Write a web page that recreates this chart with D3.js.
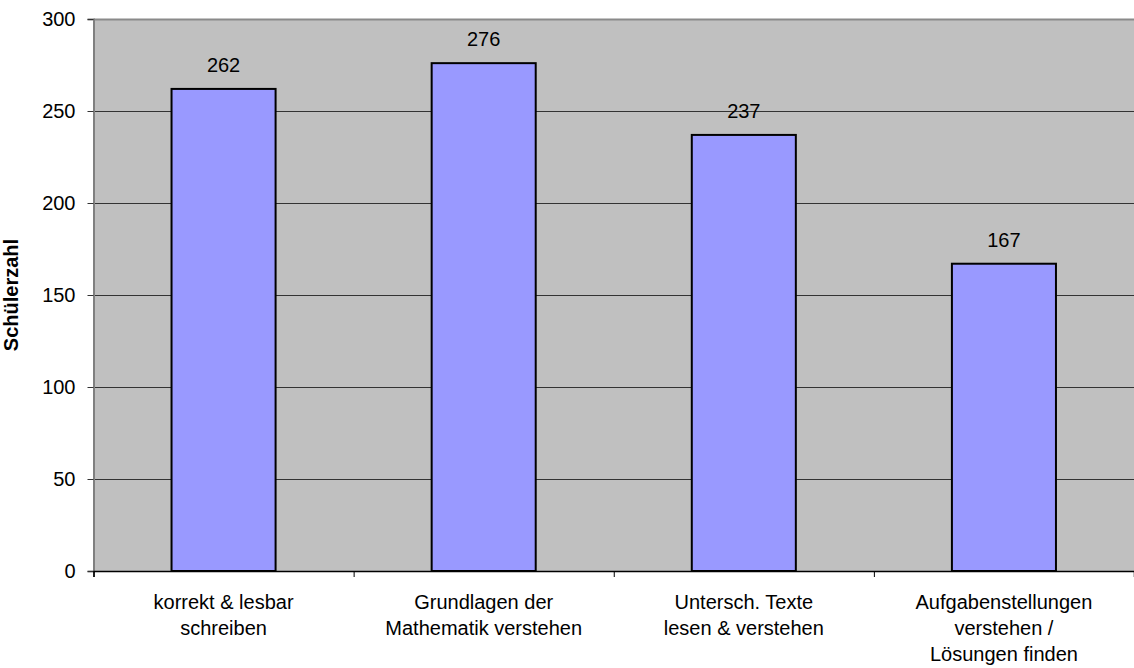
<!DOCTYPE html>
<meta charset="utf-8">
<script src="https://d3js.org/d3.v7.min.js"></script>
<style>
  body { margin: 0; background: #fff; }
  text { font-family: "Liberation Sans", Arial, sans-serif; }
</style>
<div id="chart"></div>
<script>
// data
var categories = [
  ["korrekt & lesbar", "schreiben"],
  ["Grundlagen der", "Mathematik verstehen"],
  ["Untersch. Texte", "lesen & verstehen"],
  ["Aufgabenstellungen", "verstehen /", "Lösungen finden"]
];
var values = [262, 276, 237, 167];
var yTicks = [0, 50, 100, 150, 200, 250, 300];

var W = 1134, H = 668;
var margin = {top: 19, right: 0, bottom: 97, left: 93.5};
var width = W - margin.left - margin.right,
    height = H - margin.top - margin.bottom;
var fs = 20;

var svg = d3.select("#chart").append("svg")
  .attr("width", W).attr("height", H)
  .append("g")
  .attr("transform", "translate(" + margin.left + "," + margin.top + ")");

var x = d3.scaleBand()
  .domain(d3.range(categories.length))
  .range([0, width])
  .paddingInner(0.6).paddingOuter(0.3);

var y = d3.scaleLinear().domain([0, 300]).range([height, 0]);

// plot background
svg.append("rect")
  .attr("width", width).attr("height", height)
  .attr("fill", "#c0c0c0");

// top border
svg.append("line")
  .attr("x1", 0).attr("x2", width).attr("y1", 0.5).attr("y2", 0.5)
  .attr("stroke", "#8a8a8a").attr("stroke-width", 2);

// gridlines
svg.selectAll(".grid").data(yTicks.filter(d => d > 0 && d < 300))
  .enter().append("line")
  .attr("x1", 0).attr("x2", width)
  .attr("y1", d => Math.round(y(d)) + 0.5).attr("y2", d => Math.round(y(d)) + 0.5)
  .attr("stroke", "#333").attr("stroke-width", 1);

// bars
svg.selectAll(".bar").data(values)
  .enter().append("rect")
  .attr("x", (d, i) => x(i))
  .attr("y", d => y(d))
  .attr("width", x.bandwidth())
  .attr("height", d => height - y(d))
  .attr("fill", "#9999ff")
  .attr("stroke", "#000").attr("stroke-width", 2);

// value labels
svg.selectAll(".val").data(values)
  .enter().append("text")
  .attr("x", (d, i) => x(i) + x.bandwidth() / 2)
  .attr("y", d => y(d) - 17)
  .attr("text-anchor", "middle")
  .attr("font-size", fs)
  .text(d => d);

// y axis
var yAxis = svg.append("g")
  .call(d3.axisLeft(y).tickValues(yTicks).tickSize(6).tickPadding(12));
yAxis.select(".domain").attr("stroke", "#808080").attr("stroke-width", 2);
yAxis.selectAll(".tick line").attr("stroke", "#333");
yAxis.selectAll("text").attr("font-size", fs).attr("fill", "#000")
  .style("font-family", "Liberation Sans, Arial, sans-serif");

// x axis
var xb = d3.scaleLinear().domain([0, categories.length]).range([0, width]);
var xAxis = svg.append("g")
  .attr("transform", "translate(0," + height + ")")
  .call(d3.axisBottom(xb).ticks(4).tickSize(6).tickFormat(""));
xAxis.select(".domain").attr("stroke", "#000").attr("stroke-width", 1.5);
xAxis.selectAll(".tick line").attr("stroke", "#000");

// category labels
var lab = svg.selectAll(".cat").data(categories)
  .enter().append("text")
  .attr("text-anchor", "middle")
  .attr("font-size", fs)
  .attr("transform", (d, i) => "translate(" + (x(i) + x.bandwidth() / 2) + "," + (height + 38) + ")");
lab.selectAll("tspan").data(d => d)
  .enter().append("tspan")
  .attr("x", 0)
  .attr("dy", (d, j) => j === 0 ? 0 : 26)
  .text(d => d);

// y title
svg.append("text")
  .attr("transform", "translate(" + (18 - margin.left) + "," + (height / 2) + ") rotate(-90)")
  .attr("text-anchor", "middle")
  .attr("font-size", fs)
  .attr("font-weight", "bold")
  .text("Schülerzahl");
</script>
